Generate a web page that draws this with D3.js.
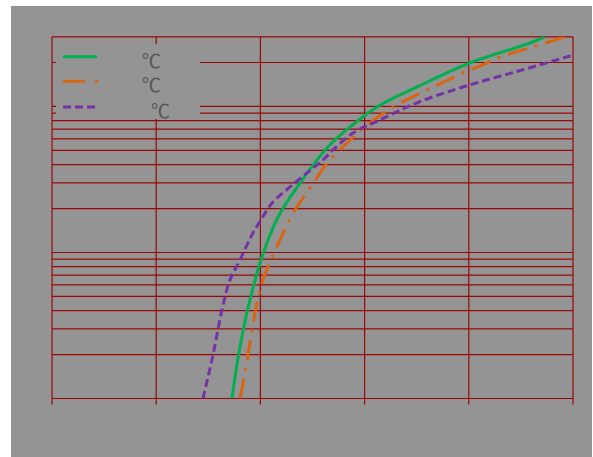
<!DOCTYPE html>
<html>
<head>
<meta charset="utf-8">
<script src="https://cdn.jsdelivr.net/npm/d3@7"></script>
<style>
  body { margin: 0; background: #fff; }
  svg { display: block; }
</style>
</head>
<body>
<script>
// series (x linear 0..5, y log 1..300)
var greenX = [1.727, 1.804, 1.900, 2.015, 2.169, 2.380, 2.639, 2.860, 3.119, 3.503, 4.012, 4.587, 4.731];
var greenY = [1, 2.25, 4.73, 9.31, 17.5, 29.9, 52, 72.4, 99.2, 136, 199, 272, 300];

var orangeX = [1.804, 1.843, 1.977, 2.035, 2.121, 2.207, 2.303, 2.409, 2.534, 2.649, 2.812, 3.004, 3.196, 3.359, 3.560, 3.743, 3.944, 4.127, 4.328, 4.520, 4.923];
var orangeY = [1, 1.38, 4.88, 6.8, 9.6, 13.0, 18.1, 23.6, 31.9, 41.7, 54.5, 72.4, 91.7, 107, 126, 145, 170, 192, 222, 244, 300];

var purpleX = [1.449, 1.545, 1.631, 1.708, 1.804, 1.919, 2.015, 2.121, 2.284, 2.447, 2.601, 2.697, 2.889, 3.148, 3.503, 3.944, 4.271, 4.587, 5.0];
var purpleY = [1, 1.99, 4.04, 6.48, 8.89, 13.2, 17.2, 22.2, 28.1, 35.1, 43.1, 50.4, 65.8, 80.9, 106, 136, 159, 184, 225];

var xTicks = [0, 1, 2, 3, 4, 5];
var yTicks = [1, 2, 3, 4, 5, 6, 7, 8, 9, 10, 20, 30, 40, 50, 60, 70, 80, 90, 100, 200, 300];
var legendLabels = ["℃", "℃", "℃"];

drawChart();

function drawChart(){
    var width = 593, height = 457;
    var plotLeft = 52, plotRight = 573, plotTop = 36.8, plotBottom = 398.5;
    var grid = "#980808";

    var svg = d3.select("body").append("svg")
        .attr("width", width)
        .attr("height", height);

    // gray chart area
    svg.append("rect")
        .attr("x", 11).attr("y", 6)
        .attr("width", 581).attr("height", 451)
        .attr("fill", "#949494");

    var x = d3.scaleLinear().domain([0, 5]).range([plotLeft, plotRight]);
    var y = d3.scaleLog().domain([1, 300]).range([plotBottom, plotTop]);

    // horizontal grid
    svg.append("g").selectAll("line")
        .data(yTicks)
        .enter().append("line")
        .attr("x1", plotLeft).attr("x2", plotRight)
        .attr("y1", function(d){ return y(d); })
        .attr("y2", function(d){ return y(d); })
        .attr("stroke", grid)
        .attr("stroke-width", 1.2);

    // vertical grid, a little past the bottom
    svg.append("g").selectAll("line")
        .data(xTicks)
        .enter().append("line")
        .attr("x1", function(d){ return x(d); })
        .attr("x2", function(d){ return x(d); })
        .attr("y1", plotTop).attr("y2", plotBottom + 6)
        .attr("stroke", grid)
        .attr("stroke-width", 1.2);

    svg.append("clipPath").attr("id", "plot")
        .append("rect")
        .attr("x", plotLeft).attr("y", plotTop)
        .attr("width", plotRight - plotLeft).attr("height", plotBottom - plotTop);

    var line = d3.line()
        .x(function(d){ return x(d[0]); })
        .y(function(d){ return y(d[1]); })
        .curve(d3.curveCatmullRom.alpha(0.5));

    var series = [
        { xs: greenX, ys: greenY, color: "#00b04f", dash: null },
        { xs: orangeX, ys: orangeY, color: "#dc6410", dash: "20,8,3,8" },
        { xs: purpleX, ys: purpleY, color: "#7432a6", dash: "8,4" }
    ];

    var curves = svg.append("g").attr("clip-path", "url(#plot)");
    series.forEach(function(s){
        curves.append("path")
            .datum(d3.zip(s.xs, s.ys))
            .attr("d", line)
            .attr("fill", "none")
            .attr("stroke", s.color)
            .attr("stroke-width", 3)
            .attr("stroke-dasharray", s.dash);
    });

    // legend box covers the grid
    var legend = svg.append("g");
    legend.append("rect")
        .attr("x", 56).attr("y", 44)
        .attr("width", 144).attr("height", 75)
        .attr("fill", "#949494");

    var legendY = [56.7, 81.3, 107];
    var legendTextX = [142, 142, 151];
    series.forEach(function(s, i){
        legend.append("line")
            .attr("x1", 63).attr("x2", s.dash ? 98 : 97)
            .attr("y1", legendY[i]).attr("y2", legendY[i])
            .attr("stroke", s.color)
            .attr("stroke-width", 3)
            .attr("stroke-dasharray", s.dash ? (i == 1 ? "22,10,3,20" : "8,4") : null);
        legend.append("text")
            .attr("x", legendTextX[i])
            .attr("y", legendY[i] + 11)
            .attr("font-family", "Noto Sans CJK SC, sans-serif")
            .attr("font-size", 19)
            .attr("fill", "#555")
            .text(legendLabels[i]);
    });
}
</script>
</body>
</html>
